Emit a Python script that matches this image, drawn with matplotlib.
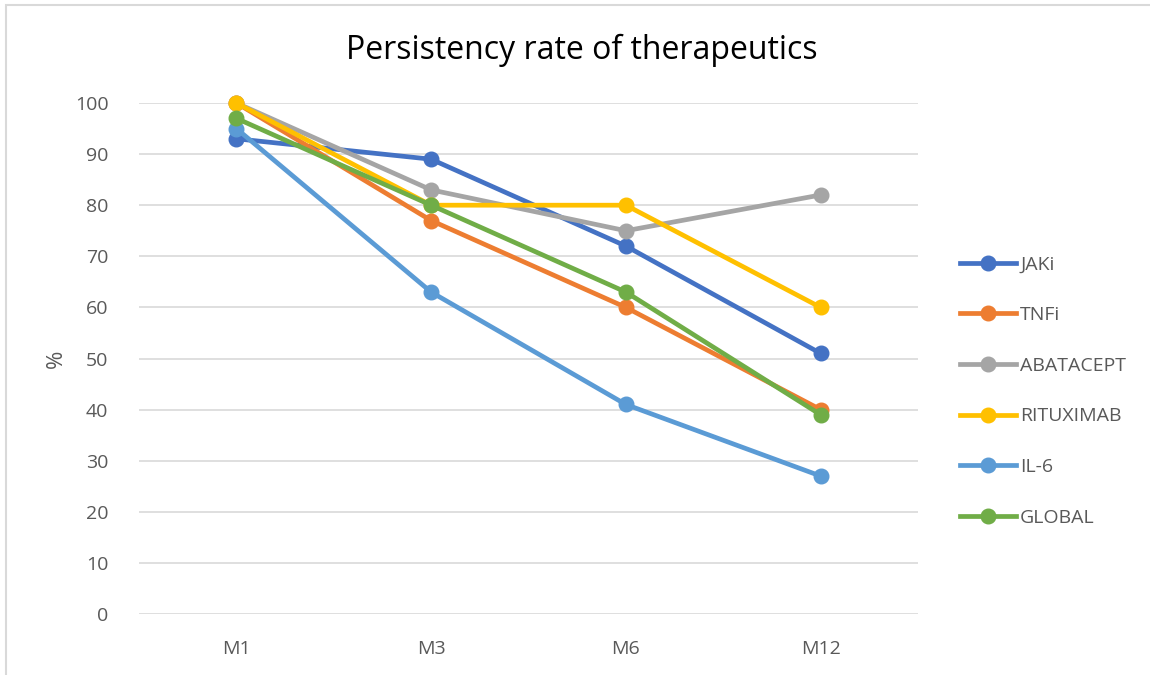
import matplotlib.pyplot as plt
from matplotlib.patches import Rectangle

plt.rcParams['font.family'] = ['Open Sans', 'DejaVu Sans']

months = ['M1', 'M3', 'M6', 'M12']
jaki = [93, 89, 72, 51]
tnfi = [100, 77, 60, 40]
abatacept = [100, 83, 75, 82]
rituximab = [100, 80, 80, 60]
il6 = [95, 63, 41, 27]
global_ = [97, 80, 63, 39]

series = [
    ('JAKi', jaki, '#4472C4'),
    ('TNFi', tnfi, '#ED7D31'),
    ('ABATACEPT', abatacept, '#A5A5A5'),
    ('RITUXIMAB', rituximab, '#FFC000'),
    ('IL-6', il6, '#5B9BD5'),
    ('GLOBAL', global_, '#70AD47'),
]

txt = '#595959'
fig = plt.figure(figsize=(11.5, 6.75), dpi=100)
ax = fig.add_axes([139/1150, 1 - 614/675, 779/1150, 511/675])

x = range(len(months))
for name, vals, col in series:
    ax.plot(x, vals, color=col, lw=3.4, marker='o', ms=10.5, label=name,
            solid_joinstyle='round', clip_on=False)

ax.set_xlim(-0.5, 3.5)
ax.set_ylim(0, 100)
ax.set_yticks(range(0, 101, 10))
ax.set_xticks(list(x))
ax.set_xticklabels(months)
ax.grid(axis='y', color='#D9D9D9', lw=1.2)
ax.set_axisbelow(True)
for s in ax.spines.values():
    s.set_visible(False)
ax.tick_params(length=0, labelsize=14, colors=txt)
ax.tick_params(axis='y', pad=22)
ax.tick_params(axis='x', pad=19)
ax.set_ylabel('%', fontsize=16, color=txt, labelpad=6)

fig.text(582/1150, 1 - 50/675, 'Persistency rate of therapeutics',
         ha='center', va='center', fontsize=23, color='black')

ax.legend(loc='center left', bbox_to_anchor=(952/1150, 1 - 391/675),
          bbox_transform=fig.transFigure, frameon=False, fontsize=14,
          labelcolor=txt, handlelength=2.9, handletextpad=0.2,
          labelspacing=1.68, borderaxespad=0)

fig.patches.append(Rectangle((6/1150, -0.1), 1.2, 1 - 5/675 + 0.1,
                             transform=fig.transFigure, fill=False,
                             edgecolor='#D9D9D9', lw=1.5))

fig.savefig('out.png', dpi=100)
